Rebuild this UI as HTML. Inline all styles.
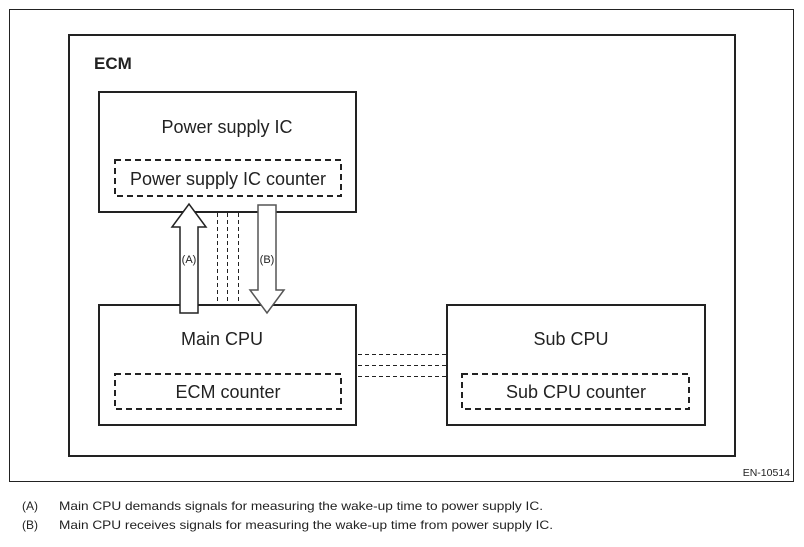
<!DOCTYPE html>
<html><head><meta charset="utf-8"><style>
body{margin:0;background:#fff;width:804px;height:542px;overflow:hidden;font-family:"Liberation Sans",Arial,sans-serif;}
</style></head><body>
<svg width="804" height="542" xmlns="http://www.w3.org/2000/svg" font-family="Liberation Sans, Arial, sans-serif">
<rect x="9.5" y="9.5" width="784" height="472" fill="none" stroke="#222" stroke-width="1"/>
<rect x="69" y="35" width="666" height="421" fill="none" stroke="#222" stroke-width="2"/>
<text x="94" y="69" font-size="17" font-weight="bold" fill="#222">ECM</text>
<rect x="99" y="92" width="257" height="120" fill="none" stroke="#222" stroke-width="2"/>
<rect x="99" y="305" width="257" height="120" fill="none" stroke="#222" stroke-width="2"/>
<rect x="447" y="305" width="258" height="120" fill="none" stroke="#222" stroke-width="2"/>
<g fill="none" stroke="#222" stroke-width="2" stroke-dasharray="6,4">
<rect x="115" y="160" width="226" height="36"/>
<rect x="115" y="374" width="226" height="35"/>
<rect x="462" y="374" width="227" height="35"/>
</g>
<g stroke="#222" stroke-width="1" stroke-dasharray="4,3">
<line x1="217.5" y1="213" x2="217.5" y2="304"/>
<line x1="227.5" y1="213" x2="227.5" y2="304"/>
<line x1="238.5" y1="213" x2="238.5" y2="304"/>
<line x1="358" y1="354.5" x2="447" y2="354.5"/>
<line x1="358" y1="365.5" x2="447" y2="365.5"/>
<line x1="358" y1="376.5" x2="447" y2="376.5"/>
</g>
<polygon points="180,313 180,227 172,227 189,204 206,227 198,227 198,313" fill="#fff" stroke="#222" stroke-width="1.5"/>
<polygon points="258,205 276,205 276,290 284,290 267,313 250,290 258,290" fill="#fff" stroke="#555" stroke-width="1.5"/>
<text x="189" y="263" font-size="11" text-anchor="middle" fill="#222">(A)</text>
<text x="267" y="263" font-size="11" text-anchor="middle" fill="#222">(B)</text>
<g font-size="18" fill="#222" text-anchor="middle">
<text x="227" y="133">Power supply IC</text>
<text x="228" y="185">Power supply IC counter</text>
<text x="222" y="345">Main CPU</text>
<text x="228" y="398">ECM counter</text>
<text x="571" y="345">Sub CPU</text>
<text x="576" y="398">Sub CPU counter</text>
</g>
<text x="790" y="476" font-size="10.5" text-anchor="end" fill="#222">EN-10514</text>
<g font-size="12" fill="#222">
<text x="22" y="510">(A)</text>
<text x="59" y="510" textLength="484" lengthAdjust="spacingAndGlyphs">Main CPU demands signals for measuring the wake-up time to power supply IC.</text>
<text x="22" y="529">(B)</text>
<text x="59" y="529" textLength="494" lengthAdjust="spacingAndGlyphs">Main CPU receives signals for measuring the wake-up time from power supply IC.</text>
</g>
</svg>
</body></html>
